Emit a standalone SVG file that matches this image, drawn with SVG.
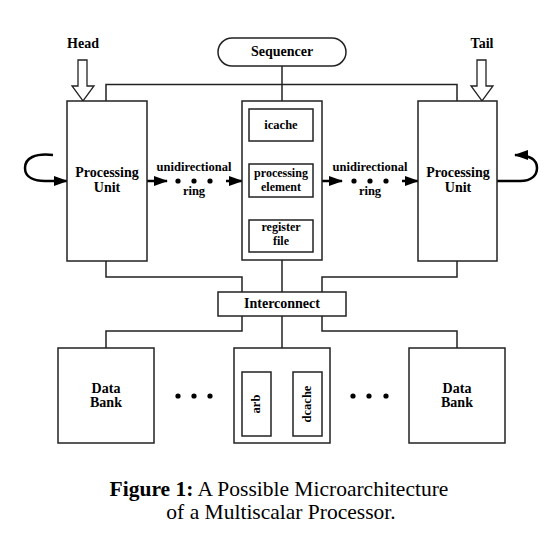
<svg xmlns="http://www.w3.org/2000/svg" width="559" height="542" viewBox="0 0 559 542">
<defs>
<marker id="ah" markerUnits="userSpaceOnUse" markerWidth="14" markerHeight="10" refX="13" refY="5" orient="auto-start-reverse">
<path d="M0,0 L14,5 L0,10 z" fill="#000"/>
</marker>
<marker id="ahs" markerUnits="userSpaceOnUse" markerWidth="10" markerHeight="8" refX="10" refY="4" orient="auto-start-reverse">
<path d="M0,0 L10,4 L0,8 z" fill="#000"/>
</marker>
</defs>
<style>
.box{fill:#fff;stroke:#222;stroke-width:1.5}
.ln{fill:none;stroke:#222;stroke-width:1.5}
.arr{fill:none;stroke:#000;stroke-width:2.5}
.hol{fill:#fff;stroke:#222;stroke-width:1.3}
.dot{fill:#000}
text{font-family:"Liberation Serif","Times New Roman",serif;font-weight:bold;text-anchor:middle;fill:#000}
.lg{font-size:14px}
.sm{font-size:12.5px}
.xs{font-size:12px}
.cap{font-size:21.5px;font-weight:normal}
</style>
<rect width="559" height="542" fill="#fff"/>

<g id="connectors">
<polyline class="ln" points="106,101 106,84.5 457,84.5 457,101"/>
<line class="ln" x1="282" y1="66" x2="282" y2="101"/>
<polyline class="ln" points="106,261 106,277 242,277 242,292"/>
<line class="ln" x1="282" y1="260" x2="282" y2="292"/>
<polyline class="ln" points="457,261 457,277 322,277 322,292"/>
<polyline class="ln" points="242,316 242,331 106,331 106,348"/>
<polyline class="ln" points="322,316 322,331 457,331 457,348"/>
<line class="ln" x1="282" y1="316" x2="282" y2="361"/>
<polyline class="ln" points="257,372 257,361 306,361 306,372"/>
<line class="arr" x1="147" y1="181" x2="167" y2="181" marker-end="url(#ah)"/>
<line class="arr" x1="226" y1="181" x2="242" y2="181" marker-end="url(#ah)"/>
<line class="arr" x1="322" y1="181" x2="342" y2="181" marker-end="url(#ah)"/>
<line class="arr" x1="402" y1="181" x2="418" y2="181" marker-end="url(#ah)"/>
<path class="arr" d="M53,155 C35,153 25,158 25,168 C25,178 35,181 45,181 L67,181" marker-end="url(#ah)"/>
<path class="arr" d="M497,181 L520,181 C532,181 537,175 537,168 C537,160 530,155 515,155" marker-end="url(#ah)"/>
<line class="arr" x1="282" y1="141" x2="282" y2="164" marker-start="url(#ahs)" marker-end="url(#ahs)"/>
<line class="arr" x1="282" y1="197" x2="282" y2="220" marker-start="url(#ahs)" marker-end="url(#ahs)"/>
<line class="arr" x1="271" y1="404" x2="293" y2="404" stroke-width="2" marker-start="url(#ahs)" marker-end="url(#ahs)"/>
<circle class="dot" cx="178" cy="181" r="2.6"/>
<circle class="dot" cx="194" cy="181" r="2.6"/>
<circle class="dot" cx="210" cy="181" r="2.6"/>
<circle class="dot" cx="354" cy="181" r="2.6"/>
<circle class="dot" cx="370" cy="181" r="2.6"/>
<circle class="dot" cx="386" cy="181" r="2.6"/>
<text class="sm" x="194" y="171">unidirectional</text>
<text class="sm" x="194" y="195">ring</text>
<text class="sm" x="370" y="171">unidirectional</text>
<text class="sm" x="370" y="195">ring</text>
</g>

<g id="head">
<text class="lg" x="83" y="48">Head</text>
<polygon class="hol" points="78,60 87,60 87,86 94,86 83,101 72,86 78,86"/>
</g>
<g id="tail">
<text class="lg" x="482" y="48">Tail</text>
<polygon class="hol" points="477,60 486,60 486,86 493,86 482,101 471,86 477,86"/>
</g>

<g id="sequencer">
<rect class="box" x="218" y="38" width="128" height="28" rx="14" ry="14"/>
<text class="lg" x="282" y="56">Sequencer</text>
</g>

<g id="pu-left">
<rect class="box" x="67" y="101" width="80" height="160"/>
<text class="lg" x="107" y="177">Processing</text>
<text class="lg" x="107" y="192">Unit</text>
</g>

<g id="pu-center">
<rect class="box" x="242" y="101" width="80" height="159"/>
<g id="icache">
<rect class="box" x="249" y="109" width="64" height="32"/>
<text class="sm" x="281" y="129">icache</text>
</g>
<g id="processing-element">
<rect class="box" x="249" y="164" width="64" height="33"/>
<text class="xs" x="281" y="177">processing</text>
<text class="xs" x="281" y="191">element</text>
</g>
<g id="register-file">
<rect class="box" x="249" y="220" width="64" height="32"/>
<text class="xs" x="281" y="231">register</text>
<text class="xs" x="281" y="245">file</text>
</g>
</g>

<g id="pu-right">
<rect class="box" x="418" y="101" width="79" height="160"/>
<text class="lg" x="458" y="177">Processing</text>
<text class="lg" x="458" y="192">Unit</text>
</g>

<g id="interconnect">
<rect class="box" x="218" y="292" width="128" height="24"/>
<text class="lg" x="282" y="308">Interconnect</text>
</g>

<g id="bank-left">
<rect class="box" x="58" y="348" width="96" height="95"/>
<text class="lg" x="106" y="393">Data</text>
<text class="lg" x="106" y="407">Bank</text>
</g>
<g id="dots-left">
<circle class="dot" cx="178" cy="396" r="2.6"/>
<circle class="dot" cx="194" cy="396" r="2.6"/>
<circle class="dot" cx="210" cy="396" r="2.6"/>
</g>

<g id="bank-center">
<rect class="box" x="234" y="348" width="96" height="95"/>
<g id="arb">
<rect class="box" x="242" y="372" width="29" height="64"/>
<text class="sm" transform="translate(260,404) rotate(-90)">arb</text>
</g>
<g id="dcache">
<rect class="box" x="293" y="372" width="29" height="64"/>
<text class="sm" transform="translate(311,404) rotate(-90)">dcache</text>
</g>
</g>

<g id="dots-right">
<circle class="dot" cx="353" cy="396" r="2.6"/>
<circle class="dot" cx="369" cy="396" r="2.6"/>
<circle class="dot" cx="386" cy="396" r="2.6"/>
</g>
<g id="bank-right">
<rect class="box" x="409" y="348" width="96" height="95"/>
<text class="lg" x="457" y="393">Data</text>
<text class="lg" x="457" y="407">Bank</text>
</g>

<g id="caption">
<text class="cap" x="279" y="496"><tspan font-weight="bold">Figure 1:</tspan> A Possible Microarchitecture</text>
<text class="cap" x="281" y="519">of a Multiscalar Processor.</text>
</g>
</svg>
